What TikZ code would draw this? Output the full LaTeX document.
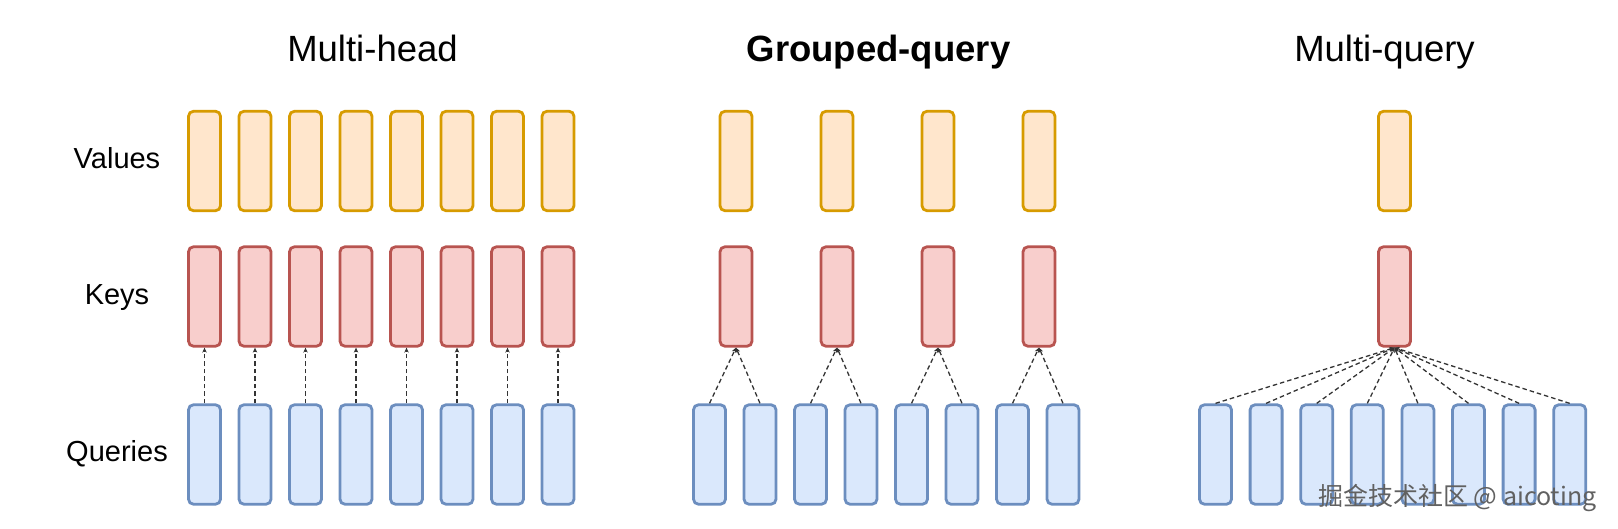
\documentclass[tikz,border=0pt]{standalone}
\usepackage{fontspec}
\setmainfont{Liberation Sans}
\newfontfamily\cjkfont{Noto Sans CJK SC}
\usetikzlibrary{arrows.meta}
\definecolor{valfill}{HTML}{FFE6CC}
\definecolor{valdraw}{HTML}{D79B00}
\definecolor{keyfill}{HTML}{F8CECC}
\definecolor{keydraw}{HTML}{B85450}
\definecolor{qfill}{HTML}{DAE8FC}
\definecolor{qdraw}{HTML}{6C8EBF}
\definecolor{linkcol}{HTML}{333333}
\tikzset{
  headbox/.style={rectangle, rounded corners=5pt, line width=2.8pt, minimum width=32pt, minimum height=99.5pt, inner sep=0pt},
  valbox/.style={headbox, draw=valdraw, fill=valfill},
  keybox/.style={headbox, draw=keydraw, fill=keyfill},
  qbox/.style={headbox, draw=qdraw, fill=qfill},
  link/.style={draw=linkcol, line width=1.3pt, dash pattern=on 4.5pt off 3pt, -{Stealth[length=5pt,width=4.5pt]}},
  titletext/.style={anchor=base, font=\fontsize{36.5}{40}\selectfont},
  rowtext/.style={anchor=base, font=\fontsize{29}{32}\selectfont}
}
\begin{document}
\begin{tikzpicture}[x=1pt,y=1pt]
\useasboundingbox (0,0) rectangle (1618,-529);
% titles
\node[titletext] (t1) at (372.5,-62) {Multi-head};
\node[titletext, font=\fontsize{36.5}{40}\selectfont\bfseries] (t2) at (878.5,-62) {Grouped-query};
\node[titletext] (t3) at (1384.5,-62) {Multi-query};
% row labels
\node[rowtext] (lv) at (117,-169) {Values};
\node[rowtext] (lk) at (117,-305) {Keys};
\node[rowtext] (lq) at (117,-461) {Queries};
% multi-head
\foreach \i in {0,...,7} {
  \node[valbox] (mhv\i) at ({204.5+50.5*\i},-161) {};
  \node[keybox] (mhk\i) at ({204.5+50.5*\i},-296.5) {};
  \node[qbox] (mhq\i) at ({204.5+50.5*\i},-454.5) {};
  \draw[link] (mhq\i.north) -- (mhk\i.south);
}
% grouped-query
\foreach \i in {0,...,3} {
  \node[valbox] (gqv\i) at ({736+101*\i},-161) {};
  \node[keybox] (gqk\i) at ({736+101*\i},-296.5) {};
}
\foreach \i in {0,...,7} {
  \node[qbox] (gqq\i) at ({709.5+50.5*\i},-454.5) {};
}
\foreach \i/\a/\b in {0/0/1,1/2/3,2/4/5,3/6/7} {
  \draw[link] (gqq\a.north) -- (gqk\i.south);
  \draw[link] (gqq\b.north) -- (gqk\i.south);
}
% multi-query
\node[valbox] (mqv) at (1394.5,-161) {};
\node[keybox] (mqk) at (1394.5,-296.5) {};
\foreach \i in {0,...,7} {
  \node[qbox] (mqq\i) at ({1215.5+50.6*\i},-454.5) {};
  \draw[link] (mqq\i.north) -- (mqk.south);
}
% watermark
\node[anchor=base east, text=black!62, font=\cjkfont\fontsize{25}{27}\selectfont] (wm) at (1600,-505) {掘金技术社区 @ aicoting};
\end{tikzpicture}
\end{document}
